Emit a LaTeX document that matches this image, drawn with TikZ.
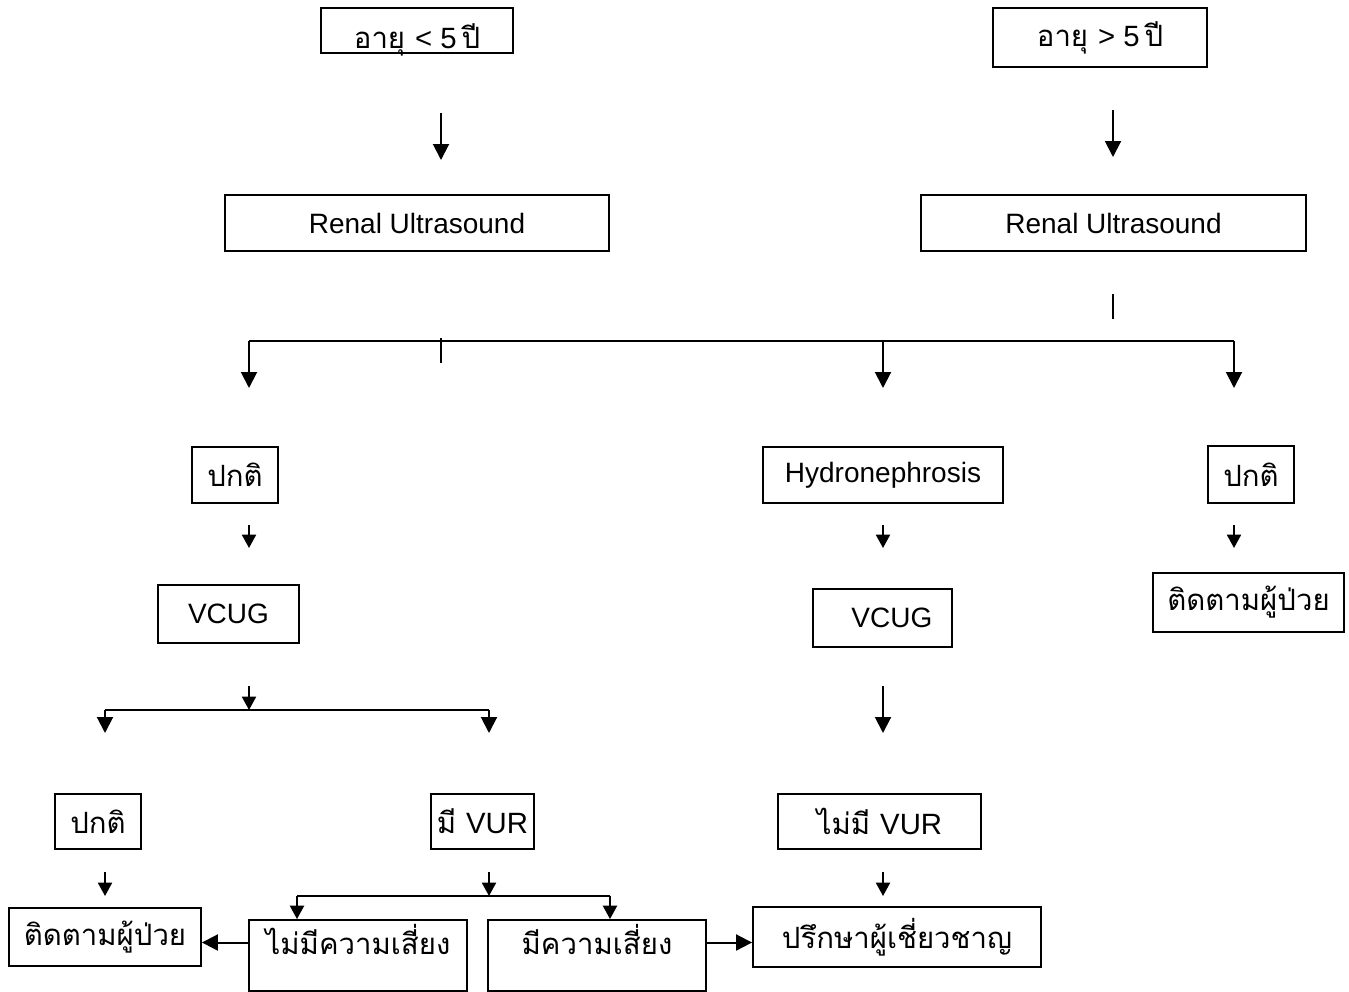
\documentclass[tikz,border=0pt]{standalone}
\usepackage{fontspec}
\setmainfont{Liberation Sans}
\newfontfamily\thaifont[Script=Thai]{Loma}
\usetikzlibrary{arrows.meta}

\tikzset{
  box/.style={draw, line width=1.4pt, inner sep=0pt, font=\fontsize{21}{25}\selectfont},
  thbox/.style={box, font=\thaifont\fontsize{22}{26}\selectfont},
  arr/.style={line width=1.5pt, -{Triangle[length=12pt,width=12pt]}},
  arrs/.style={line width=1.5pt, -{Triangle[length=10pt,width=10.5pt]}},
  plain/.style={line width=1.5pt}
}

\begin{document}
\begin{tikzpicture}[x=0.75pt,y=0.75pt,yscale=-1,xscale=1]
\useasboundingbox (0,0) rectangle (1349,992);

%Shape: Rectangle [age]
\node[thbox, minimum width=144pt, minimum height=33.75pt, text height=29pt, text depth=2pt] (ageLo) at (417,30.5) {อายุ \textrm{< 5}\,ปี};
\node[thbox, minimum width=160.5pt, minimum height=44.25pt] (ageHi) at (1100,37.5) {อายุ \textrm{> 5}\,ปี};
%Shape: Rectangle [ultrasound]
\node[box, minimum width=288pt, minimum height=42pt] (usLo) at (417,223) {Renal Ultrasound};
\node[box, minimum width=288.75pt, minimum height=42pt] (usHi) at (1113.5,223) {Renal Ultrasound};
%Shape: Rectangle [result]
\node[thbox, minimum width=64.5pt, minimum height=42pt] (normA) at (235,475) {ปกติ};
\node[box, minimum width=180pt, minimum height=42pt] (hydro) at (883,475) {Hydronephrosis};
\node[thbox, minimum width=64.5pt, minimum height=42.75pt] (normB) at (1251,474.5) {ปกติ};
%Shape: Rectangle [vcug]
\node[box, minimum width=105.75pt, minimum height=43.5pt] (vcugA) at (228.5,614) {VCUG};
\node[box, minimum width=104.25pt, minimum height=43.5pt] (vcugB) at (882.5,618) {\hspace*{14pt}VCUG};
\node[thbox, minimum width=143.25pt, minimum height=44.25pt] (followR) at (1248.5,602.5) {ติดตามผู้ป่วย};
%Shape: Rectangle [vur]
\node[thbox, minimum width=64.5pt, minimum height=41.25pt] (normC) at (98,821.5) {ปกติ};
\node[thbox, minimum width=77.25pt, minimum height=41.25pt] (vurYes) at (482.5,821.5) {มี \textrm{VUR}};
\node[thbox, minimum width=152.25pt, minimum height=41.25pt] (vurNo) at (879.5,821.5) {ไม่มี \textrm{VUR}};
%Shape: Rectangle [outcome]
\node[thbox, minimum width=144pt, minimum height=43.5pt] (followL) at (105,937) {ติดตามผู้ป่วย};
\node[thbox, minimum width=163.5pt, minimum height=53.25pt, text height=17pt, text depth=18.5pt] (riskNo) at (358,955.5) {ไม่มีความเสี่ยง};
\node[thbox, minimum width=163.5pt, minimum height=53.25pt, text height=17pt, text depth=18.5pt] (riskYes) at (597,955.5) {มีความเสี่ยง};
\node[thbox, minimum width=216pt, minimum height=45pt] (consult) at (897,937) {ปรึกษาผู้เชี่ยวชาญ};

% free ends
\coordinate (loA) at (441,113); \coordinate (loB) at (441,160);
\coordinate (hiA) at (1113,110); \coordinate (hiB) at (1113,157);
\coordinate (hiTickA) at (1113,294); \coordinate (hiTickB) at (1113,319);
\coordinate (loTickA) at (441,338); \coordinate (loTickB) at (441,363);
\foreach \n/\x in {brL/249,brM/883,brR/1234}{
  \coordinate (\n) at (\x,341); \coordinate (\n end) at (\x,388);
  \coordinate (\n sA) at (\x,525); \coordinate (\n sB) at (\x,548);
}
\coordinate (vcA) at (249,686); \coordinate (vcB) at (249,710);
\coordinate (spL) at (105,710); \coordinate (spLend) at (105,733);
\coordinate (spR) at (489,710); \coordinate (spRend) at (489,733);
\coordinate (vcC) at (883,686); \coordinate (vcD) at (883,733);
\foreach \n/\x in {dnL/105,dnM/489,dnR/883}{
  \coordinate (\n) at (\x,872); \coordinate (\n end) at (\x,896);
}
\coordinate (rkL) at (297,896); \coordinate (rkR) at (610,896);
\coordinate (riskNoW) at ([yshift=-9.75pt]riskNo.west);
\coordinate (riskYesE) at ([yshift=-9.75pt]riskYes.east);

%Straight Lines
\draw[arr] (loA) -- (loB);
\draw[arr] (hiA) -- (hiB);
\draw[plain] (hiTickA) -- (hiTickB);
\draw[plain] (loTickA) -- (loTickB);
\draw[plain] (brL) -- (brR);
\foreach \n in {brL,brM,brR}{
  \draw[arr] (\n) -- (\n end);
  \draw[arrs] (\n sA) -- (\n sB);
}
\draw[arrs] (vcA) -- (vcB);
\draw[plain] (spL) -- (spR);
\draw[arr] (spL) -- (spLend);
\draw[arr] (spR) -- (spRend);
\draw[arr] (vcC) -- (vcD);
\foreach \n in {dnL,dnM,dnR}{
  \draw[arrs] (\n) -- (\n end);
}
\draw[plain] (rkL) -- (rkR);
\draw[arrs] (rkL) -- (rkL |- riskNo.north);
\draw[arrs] (rkR) -- (rkR |- riskYes.north);
\draw[arr] (riskNoW) -- (riskNoW -| followL.east);
\draw[arr] (riskYesE) -- (riskYesE -| consult.west);

\end{tikzpicture}
\end{document}
